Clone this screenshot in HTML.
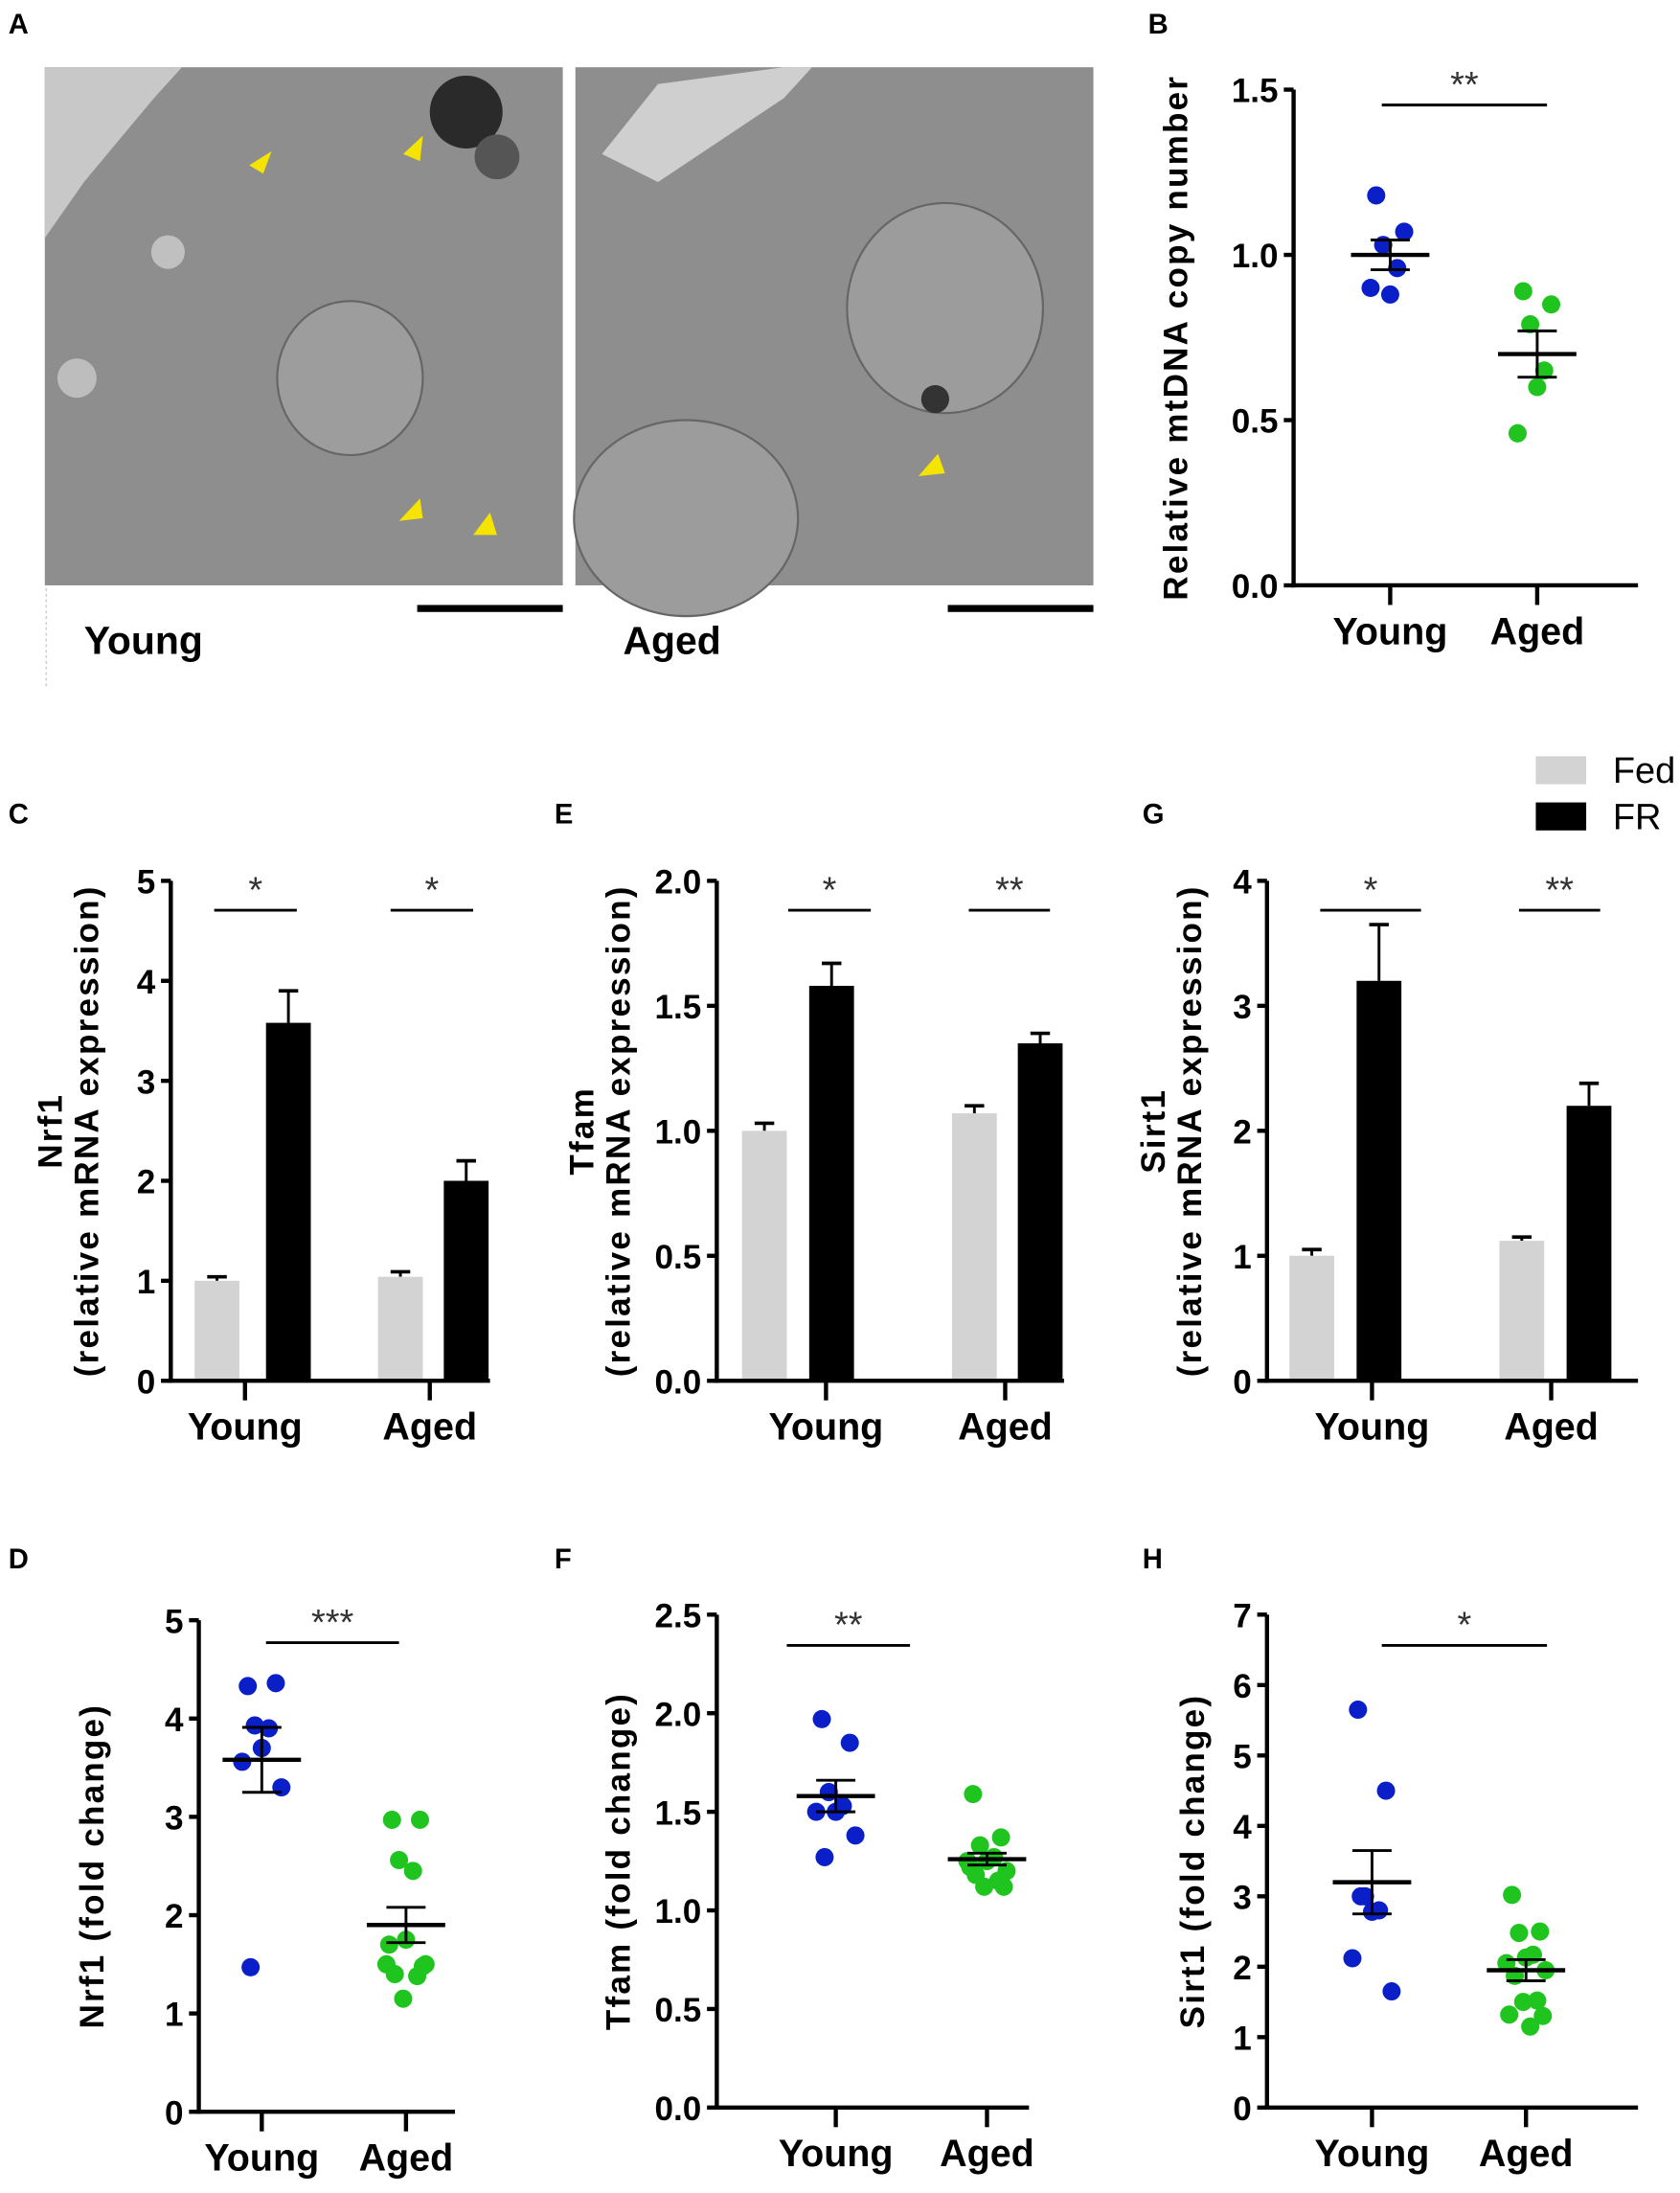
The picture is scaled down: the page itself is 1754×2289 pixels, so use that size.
<!DOCTYPE html>
<html><head><meta charset="utf-8">
<style>
html,body{margin:0;padding:0;background:#fff;}
svg{display:block;}
text{font-family:"Liberation Sans",Arial,sans-serif;}
</style></head>
<body>
<svg id="fig" width="1754" height="2289" viewBox="0 0 1200 1566" xmlns="http://www.w3.org/2000/svg">
<g>
<text x="6" y="24" font-size="20" font-weight="bold">A</text>
<rect x="32" y="48" width="370" height="370" fill="#8e8e8e"/>
<path d="M32,48 L130,48 L110,70 L60,130 L32,170 Z" fill="#c8c8c8"/>
<circle cx="333" cy="80" r="26" fill="#2a2a2a"/><circle cx="355" cy="112" r="16" fill="#555"/>
<circle cx="120" cy="180" r="12" fill="#c0c0c0"/><circle cx="55" cy="270" r="14" fill="#bdbdbd"/>
<ellipse cx="250" cy="270" rx="52" ry="55" fill="#9d9d9d" stroke="#666" stroke-width="1.5"/>
<rect x="411" y="48" width="370" height="370" fill="#8e8e8e"/>
<path d="M430,110 L470,60 L560,48 L580,48 L560,70 L470,130 Z" fill="#cfcfcf"/>
<ellipse cx="675" cy="220" rx="70" ry="75" fill="#9c9c9c" stroke="#666" stroke-width="1.5"/>
<ellipse cx="490" cy="370" rx="80" ry="70" fill="#9c9c9c" stroke="#666" stroke-width="1.5"/>
<circle cx="668" cy="285" r="10" fill="#333"/>
<g fill="#f5e400">
<polygon points="178,118 194,108 188,124"/><polygon points="288,110 302,97 300,115"/>
<polygon points="285,372 300,356 302,370"/><polygon points="338,382 350,366 355,382"/>
<polygon points="656,340 670,324 675,338"/></g>
<rect x="298" y="432" width="104" height="5" fill="#000"/>
<rect x="677" y="432" width="104" height="5" fill="#000"/>
<line x1="33" y1="420" x2="33" y2="490" stroke="#ccc" stroke-dasharray="2,2"/>
<text x="60" y="467" font-size="28" font-weight="bold">Young</text>
<text x="445" y="467" font-size="28" font-weight="bold">Aged</text>
</g>
<g>
<rect x="1097" y="540" width="36" height="20" fill="#d3d3d3"/>
<text x="1152" y="559" font-size="26">Fed</text>
<rect x="1097" y="573" width="36" height="20" fill="#000"/>
<text x="1152" y="592" font-size="26">FR</text>
</g>
</svg>
<script>
// ---- Panel B data
const bYoung=[1.18,1.07,1.03,0.96,0.88,0.90];
const bAged=[0.89,0.85,0.79,0.65,0.60,0.46];
const bMean=[1.00,0.70]; const bSem=[0.045,0.07];
const bTicks=["0.0","0.5","1.0","1.5"];
// ---- Bar charts data (Young Fed, Young FR, Aged Fed, Aged FR)
const cVals=[1.0,3.58,1.04,2.0]; const cErr=[0.04,0.32,0.05,0.2];
const cTicks=["0","1","2","3","4","5"];
const eVals=[1.0,1.58,1.07,1.35]; const eErr=[0.03,0.09,0.03,0.04];
const eTicks=["0.0","0.5","1.0","1.5","2.0"];
const gVals=[1.0,3.2,1.12,2.2]; const gErr=[0.05,0.45,0.03,0.18];
const gTicks=["0","1","2","3","4"];
// ---- Scatter D/F/H
const dYoung=[4.33,4.36,3.93,3.90,3.70,3.56,3.30,1.47];
const dAged=[2.97,2.97,2.56,2.45,1.75,1.50,1.50,1.40,1.38,1.15,1.48,1.70];
const dMean=[3.58,1.90]; const dSem=[0.33,0.18];
const dTicks=["0","1","2","3","4","5"];
const fYoung=[1.97,1.85,1.60,1.53,1.50,1.50,1.38,1.27];
const fAged=[1.59,1.37,1.33,1.27,1.25,1.25,1.20,1.18,1.15,1.12,1.12,1.22];
const fMean=[1.58,1.26]; const fSem=[0.08,0.03];
const fTicks=["0.0","0.5","1.0","1.5","2.0","2.5"];
const hYoung=[5.65,4.50,3.00,2.80,2.78,2.12,1.65,3.00];
const hAged=[3.02,2.50,2.48,2.17,2.13,2.05,1.95,1.87,1.52,1.50,1.30,1.32,1.15];
const hMean=[3.20,1.95]; const hSem=[0.45,0.15];
const hTicks=["0","1","2","3","4","5","6","7"];

const NS="http://www.w3.org/2000/svg";
const svg=document.getElementById('fig');
function mk(tag,attrs,parent,txt){const e=document.createElementNS(NS,tag);for(const k in attrs)e.setAttribute(k,attrs[k]);if(txt!==undefined)e.textContent=txt;(parent||svg).appendChild(e);return e;}

function axes(g,ax,top,bot,xEnd,ticks,max,xt,titleLines,titleX){
  const y=v=>bot-(v/max)*(bot-top);
  let l=mk('line',{x1:ax,y1:top,x2:ax,y2:bot+1.5,stroke:'#000','stroke-width':3},g);
  
  
  l=mk('line',{x1:ax-1.5,y1:bot,x2:xEnd,y2:bot,stroke:'#000','stroke-width':3},g);
  
  
  ticks.forEach((t,i)=>{const v=parseFloat(t);
    mk('line',{x1:ax-7,y1:y(v),x2:ax,y2:y(v),stroke:'#000','stroke-width':3},g);
    const tx=mk('text',{x:ax-11,y:y(v)+9,'font-size':24,'font-weight':'bold','text-anchor':'end'},g,t);
    
    });
  ['Young','Aged'].forEach((c,i)=>{
    mk('line',{x1:xt[i],y1:bot,x2:xt[i],y2:bot+14,stroke:'#000','stroke-width':3},g);
    const tx=mk('text',{x:xt[i],y:bot+42,'font-size':27,'font-weight':'bold','text-anchor':'middle'},g,c);
    
    });
  titleLines.forEach((s,i)=>{
    const cx=titleX+i*26, cy=(top+bot)/2;
    const tx=mk('text',{x:cx,y:cy,'font-size':24,'font-weight':'bold','text-anchor':'middle','letter-spacing':'1.5',transform:`rotate(-90 ${cx} ${cy})`},g,s);
    
    });
  return y;
}
function sig(g,x1,x2,yl,stars){
  const l=mk('line',{x1:x1,y1:yl,x2:x2,y2:yl,stroke:'#000','stroke-width':2},g);
  
  
  const t=mk('text',{x:(x1+x2)/2,y:yl-6,'font-size':26,'text-anchor':'middle',fill:'#333'},g,stars);
  
  
}
function label(txt,x,y){const t=mk('text',{x:x,y:y,'font-size':20,'font-weight':'bold'},svg,txt);
  
  }

const jit=[-10,10,-5,5,0,-14,14,-8,8,-2,12,-12,3];
function scatter(name,ax,top,bot,xEnd,ticks,max,xt,yv,av,mean,sem,title,titleX,sigY,sigX,stars){
  const g=mk('g',{});
  
  
  const y=axes(g,ax,top,bot,xEnd,ticks,max,xt,[title],titleX);
  [[yv,'#0a1fc8'],[av,'#1fc41f']].forEach(([arr,col],gi)=>{
    arr.forEach((v,i)=>{const c=mk('circle',{cx:xt[gi]+jit[i%jit.length],cy:y(v),r:6.5,fill:col},g);
      
      });
    const m=mean[gi],s=sem[gi],x=xt[gi];
    mk('line',{x1:x-28,y1:y(m),x2:x+28,y2:y(m),stroke:'#000','stroke-width':3},g);
    mk('line',{x1:x,y1:y(m-s),x2:x,y2:y(m+s),stroke:'#000','stroke-width':2},g);
    mk('line',{x1:x-14,y1:y(m+s),x2:x+14,y2:y(m+s),stroke:'#000','stroke-width':2},g);
    mk('line',{x1:x-14,y1:y(m-s),x2:x+14,y2:y(m-s),stroke:'#000','stroke-width':2},g);
  });
  sig(g,sigX[0],sigX[1],sigY,stars);
}
function bars(name,ax,top,bot,xEnd,ticks,max,xt,vals,err,lines,titleX,bx,sigs){
  const g=mk('g',{});
  
  
  const y=axes(g,ax,top,bot,xEnd,ticks,max,xt,lines,titleX);
  vals.forEach((v,i)=>{const x=bx[i],fr=i%2===1;
    mk('line',{x1:x+16,y1:y(v),x2:x+16,y2:y(v+err[i]),stroke:'#000','stroke-width':2},g);
    mk('line',{x1:x+9,y1:y(v+err[i]),x2:x+23,y2:y(v+err[i]),stroke:'#000','stroke-width':2.5},g);
    const r=mk('rect',{x:x,y:y(v),width:32,height:bot-1.5-y(v),fill:fr?'#000':'#d3d3d3'},g);
    
    });
  sigs.forEach(s=>sig(g,s[0],s[1],650,s[2]));
}
// Panel B
label('B',820,24);
scatter('panel-b-mtdna',924,64,418,1170,bTicks,1.5,[993,1098],bYoung,bAged,bMean,bSem,'Relative mtDNA copy number',848,75,[987,1105],'**');
// Bars C E G
label('C',6,588); label('E',396,588); label('G',816,588);
bars('panel-c-nrf1',122,629,986,350,cTicks,5,[175,307],cVals,cErr,['Nrf1','(relative mRNA expression)'],44,[139,190,270,317],[[153,212,'*'],[279,338,'*']]);
bars('panel-e-tfam',512,629,986,760,eTicks,2,[590,718],eVals,eErr,['Tfam','(relative mRNA expression)'],424,[530,578,680,727],[[563,622,'*'],[692,750,'**']]);
bars('panel-g-sirt1',905,629,986,1170,gTicks,4,[980,1108],gVals,gErr,['Sirt1','(relative mRNA expression)'],832,[921,969,1071,1119],[[943,1015,'*'],[1085,1143,'**']]);
// Scatter D F H
label('D',6,1120); label('F',396,1120); label('H',816,1120);
scatter('panel-d-nrf1',142,1157,1508,325,dTicks,5,[187,290],dYoung,dAged,dMean,dSem,'Nrf1 (fold change)',74,1173,[190,285],'***');
scatter('panel-f-tfam',512,1153,1505,735,fTicks,2.5,[597,705],fYoung,fAged,fMean,fSem,'Tfam (fold change)',450,1175,[562,650],'**');
scatter('panel-h-sirt1',905,1153,1505,1170,hTicks,7,[980,1090],hYoung,hAged,hMean,hSem,'Sirt1 (fold change)',860,1175,[987,1105],'*');
</script>
</body></html>
